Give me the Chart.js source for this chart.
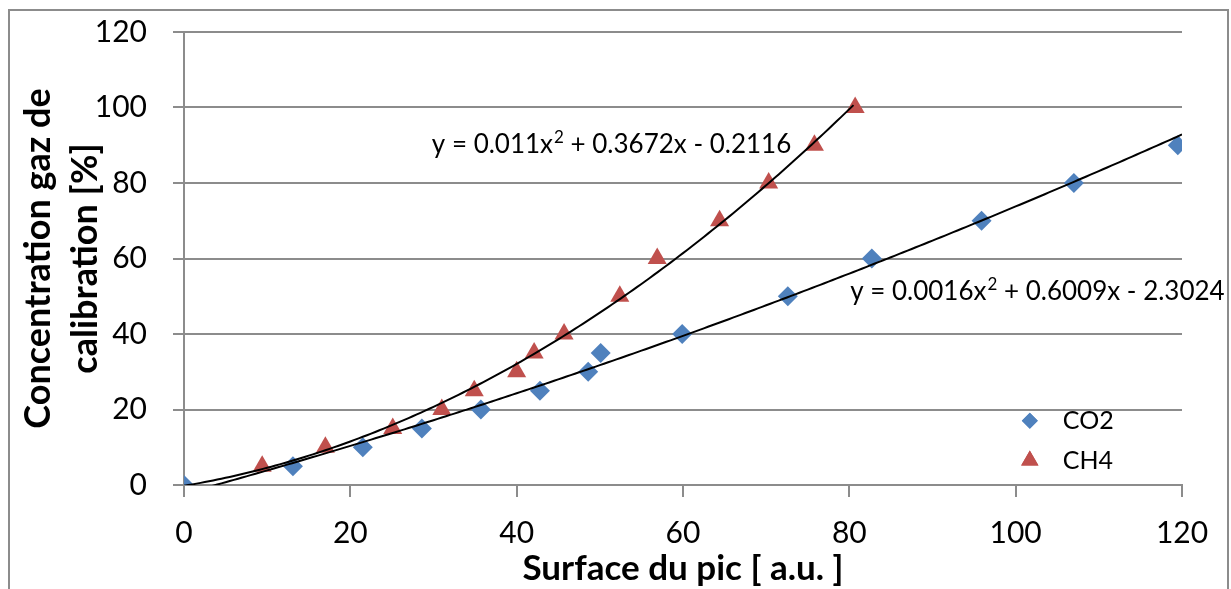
<!DOCTYPE html>
<html>
<head>
<meta charset="utf-8">
<script src="https://cdn.jsdelivr.net/npm/chart.js@4.4.1/dist/chart.umd.min.js"></script>
<style>
  html, body { margin: 0; padding: 0; background: #fff; }
  #wrap { width: 1231px; height: 589px; }
</style>
</head>
<body>
<div id="wrap"><canvas id="calibChart"></canvas></div>
<script>
// points
const co2X = [0, 13.1, 21.5, 28.6, 35.7, 42.8, 48.6, 50.1, 59.9, 72.6, 82.7, 95.9, 107.0, 119.5];
const co2Y = [0, 5, 10, 15, 20, 25, 30, 35, 40, 50, 60, 70, 80, 90];
const ch4X = [9.4, 17.0, 25.1, 31.0, 34.9, 40.0, 42.1, 45.7, 52.4, 56.9, 64.4, 70.3, 75.8, 80.7];
const ch4Y = [5, 10, 15, 20, 25, 30, 35, 40, 50, 60, 70, 80, 90, 100];

// polynomial trendlines as printed on the chart: c0 + c1*x + c2*x^2
const co2Fit = [-2.3024, 0.6009, 0.0016];
const ch4Fit = [-0.2116, 0.3672, 0.011];
const co2Eq = ['y = 0.0016x', '2', ' + 0.6009x - 2.3024'];
const ch4Eq = ['y = 0.011x', '2', ' + 0.3672x - 0.2116'];

const seriesNames = ['CO2', 'CH4'];
const xTitle = 'Surface du pic [ a.u. ]';
const yTitle = ['Concentration gaz de', 'calibration [%]'];

const blue = '#4f81bd';
const red = '#c0504d';
const gridGray = '#8c8c8c';
const FONT = 'Lato, "Open Sans", sans-serif';

function toPoints(xs, ys) {
    return xs.map((x, i) => ({ x: x, y: ys[i] }));
}

// trendline sampled along the printed equation
function fitLine(coef, xMax) {
    const pts = [];
    for (let x = 0; x <= xMax + 0.001; x += 0.5) {
        pts.push({ x: x, y: coef[0] + coef[1] * x + coef[2] * x * x });
    }
    return pts;
}

// outer frame of the figure
const framePlugin = {
    id: 'frame',
    beforeDraw(chart) {
        const ctx = chart.ctx;
        ctx.save();
        ctx.strokeStyle = gridGray;
        ctx.lineWidth = 2;
        ctx.strokeRect(9, 10, 1219, 600);
        ctx.restore();
    }
};

// equation labels + small legend inside the plot
const labelPlugin = {
    id: 'labels',
    afterDatasetsDraw(chart) {
        const ctx = chart.ctx;
        const xs = chart.scales.x, ys = chart.scales.y;

        function drawEq(parts, vx, vy) {
            let px = xs.getPixelForValue(vx);
            const py = ys.getPixelForValue(vy);
            ctx.fillStyle = '#000';
            ctx.textBaseline = 'alphabetic';
            ctx.textAlign = 'left';
            ctx.font = '26px ' + FONT;
            ctx.fillText(parts[0], px, py);
            px += ctx.measureText(parts[0]).width + 1;
            ctx.font = '17px ' + FONT;
            ctx.fillText(parts[1], px, py - 10);
            px += ctx.measureText(parts[1]).width;
            ctx.font = '26px ' + FONT;
            ctx.fillText(parts[2], px, py);
        }

        ctx.save();
        drawEq(ch4Eq, 29.8, 87.9);
        drawEq(co2Eq, 80.1, 49.0);

        // legend
        const items = [
            { name: seriesNames[0], color: blue, style: 'rectRot', r: 8, y: 17 },
            { name: seriesNames[1], color: red, style: 'triangle', r: 10, y: 6.5 }
        ];
        const mx = xs.getPixelForValue(101.7);
        items.forEach(it => {
            const py = ys.getPixelForValue(it.y);
            ctx.fillStyle = it.color;
            Chart.helpers.drawPoint(ctx, { pointStyle: it.style, radius: it.r, rotation: 0, borderWidth: 0 }, mx, py);
            ctx.fill();
            ctx.fillStyle = '#000';
            ctx.font = '25px ' + FONT;
            ctx.textBaseline = 'middle';
            ctx.fillText(it.name, mx + 33, py);
        });
        ctx.restore();
    }
};

const ctx = document.getElementById('calibChart').getContext('2d');

new Chart(ctx, {
    type: 'scatter',
    data: {
        datasets: [{
            label: seriesNames[0],
            data: toPoints(co2X, co2Y),
            pointStyle: 'rectRot',
            pointRadius: 10,
            pointBackgroundColor: blue,
            pointBorderWidth: 0,
            order: 2
        }, {
            label: seriesNames[1],
            data: toPoints(ch4X, ch4Y),
            pointStyle: 'triangle',
            pointRadius: 11,
            pointBackgroundColor: red,
            pointBorderWidth: 0,
            order: 2
        }, {
            label: 'fit CO2',
            data: fitLine(co2Fit, 120),
            showLine: true,
            borderColor: '#000',
            borderWidth: 2,
            pointRadius: 0,
            order: 1
        }, {
            label: 'fit CH4',
            data: fitLine(ch4Fit, ch4X[ch4X.length - 1]),
            showLine: true,
            borderColor: '#000',
            borderWidth: 2,
            pointRadius: 0,
            order: 1
        }]
    },
    options: {
        responsive: true,
        maintainAspectRatio: false,
        animation: false,
        layout: { padding: { left: 8, top: 32, right: 49, bottom: 0 } },
        plugins: {
            legend: { display: false },
            tooltip: { enabled: false }
        },
        scales: {
            x: {
                type: 'linear',
                min: 0,
                max: 120,
                ticks: { stepSize: 20, color: '#000', padding: 18, font: { family: FONT, size: 30 } },
                grid: { drawOnChartArea: false, drawTicks: true, tickLength: 12, color: gridGray, lineWidth: 2 },
                border: { color: gridGray, width: 2 },
                title: {
                    display: true, text: xTitle, color: '#000',
                    font: { family: FONT, size: 35, weight: 'bold', lineHeight: 1.1 },
                    padding: { top: 0, bottom: 1 }
                },
                afterFit(scale) { scale.height = 104; }
            },
            y: {
                min: 0,
                max: 120,
                // small lineHeight keeps the top label from pushing the plot down
                ticks: { stepSize: 20, color: '#000', padding: 26, font: { family: FONT, size: 30, lineHeight: 0.2 } },
                grid: { drawOnChartArea: true, drawTicks: true, tickLength: 11, color: gridGray, lineWidth: 2 },
                border: { color: gridGray, width: 2 },
                title: {
                    display: true, text: yTitle, color: '#000',
                    font: { family: FONT, size: 36, weight: 'bold', lineHeight: 1.3 },
                    padding: { top: 7, bottom: 0 }
                },
                afterFit(scale) { scale.width = 176; }
            }
        }
    },
    plugins: [framePlugin, labelPlugin]
});
</script>
</body>
</html>
